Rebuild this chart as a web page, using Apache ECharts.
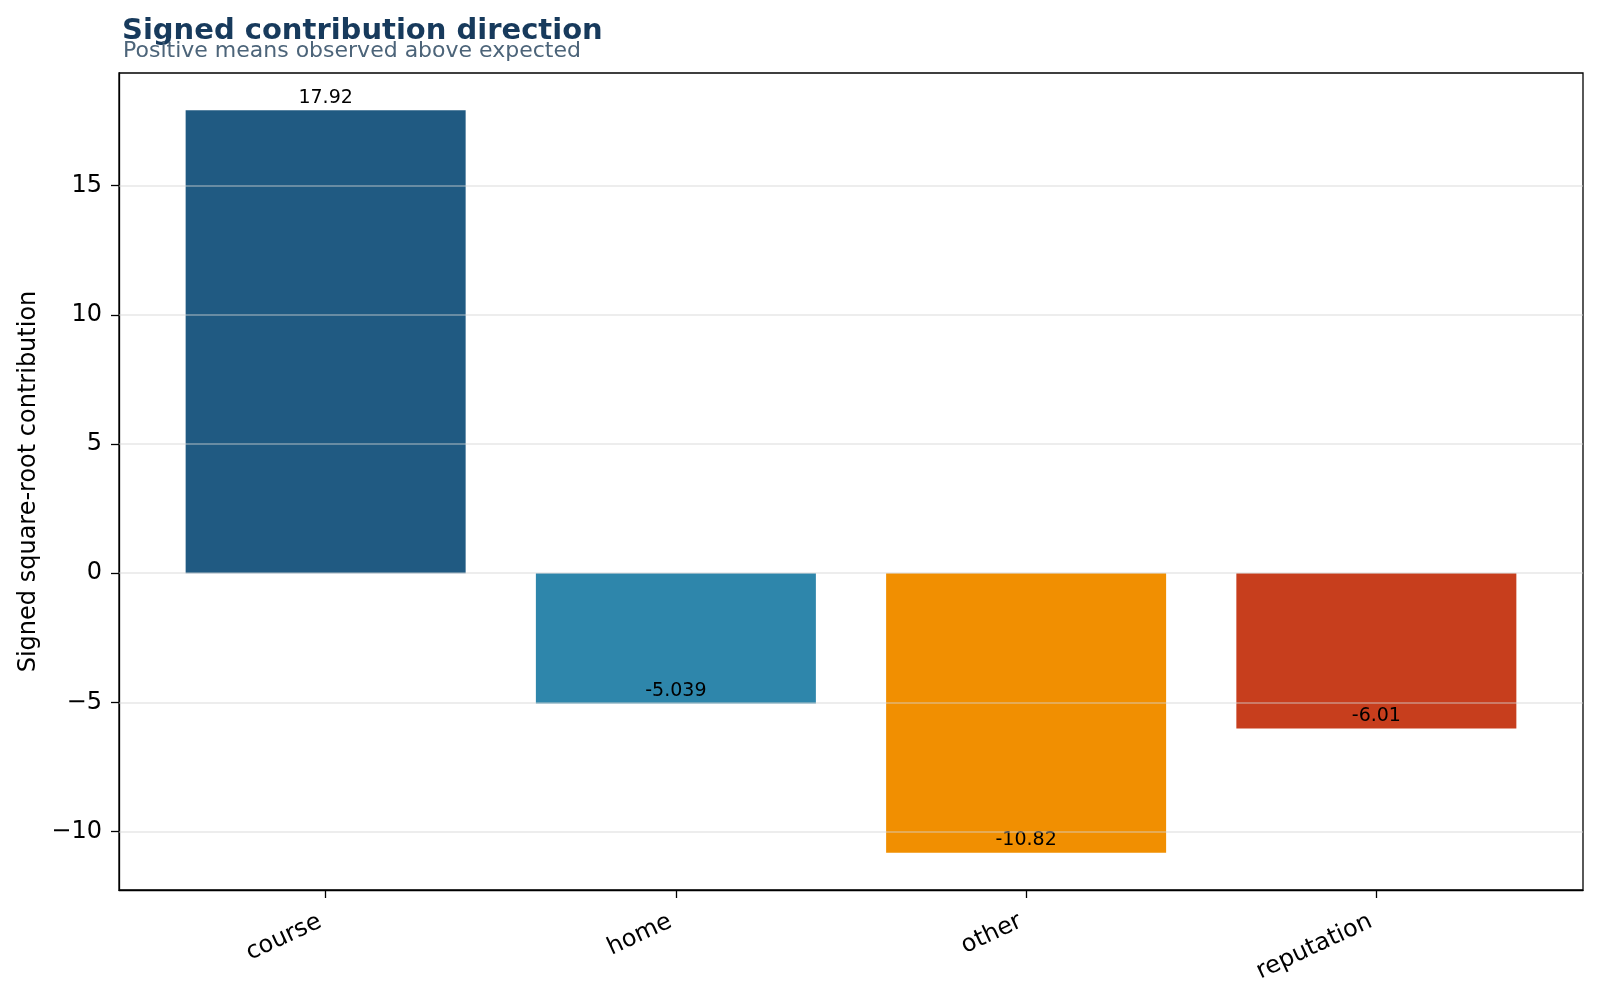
<!DOCTYPE html>
<html>
<head>
<meta charset="utf-8">
<script src="https://cdn.jsdelivr.net/npm/echarts@6/dist/echarts.min.js"></script>
<style>
  html, body { margin: 0; padding: 0; background: #fff; }
  #main { width: 1600px; height: 1000px; }
</style>
</head>
<body>
<div id="main"></div>
<script>
(function(){
var myChart = echarts.init(document.getElementById('main'));

// data
var categories = ['course', 'home', 'other', 'reputation'];
var values = [17.92, -5.039, -10.82, -6.01];
var yTicks = [-10, -5, 0, 5, 10, 15];
var barColors = ['#205a82', '#2e86ab', '#f18f01', '#c73e1d'];

var FONT = 'DejaVu Sans';

// like matplotlib's %.4g
function fmt(v){
    return String(Number(v.toPrecision(4)));
}

var option = {
    animation: false,
    textStyle: { fontFamily: FONT },
    title: [{
        text: 'Signed contribution direction',
        left: 117,
        top: 12,
        textStyle: { fontFamily: FONT, fontSize: 29, fontWeight: 'bold', color: '#173a5c' }
    }, {
        text: 'Positive means observed above expected',
        left: 118,
        top: 35,
        textStyle: { fontFamily: FONT, fontSize: 22, fontWeight: 'normal', color: '#4c6479' }
    }],
    grid: {
        left: 119,
        right: 17,
        top: 73,
        bottom: 110,
        show: true,
        borderColor: '#000',
        borderWidth: 1.3,
        backgroundColor: 'transparent'
    },
    xAxis: {
        type: 'value',
        min: -0.59,
        max: 3.59,
        axisLine: { show: true, onZero: false, lineStyle: { color: '#000', width: 1.3 } },
        axisTick: { show: true, length: 8, customValues: [0, 1, 2, 3], lineStyle: { color: '#000', width: 1.3 } },
        axisLabel: {
            customValues: [0, 1, 2, 3],
            formatter: function (v) { return categories[v]; },
            rotate: 25,
            margin: 28,
            padding: [0, 6, 0, 0],
            fontSize: 24,
            color: '#000',
            fontFamily: FONT
        },
        splitLine: { show: false }
    },
    yAxis: {
        type: 'value',
        min: -12.257,
        max: 19.357,
        name: 'Signed square-root contribution',
        nameLocation: 'middle',
        nameGap: 78,
        nameTextStyle: { fontSize: 24, color: '#000', fontFamily: FONT },
        axisLine: { show: true, onZero: false, lineStyle: { color: '#000', width: 1.3 } },
        axisTick: { show: true, length: 8, customValues: yTicks, lineStyle: { color: '#000', width: 1.3 } },
        axisLabel: {
            customValues: yTicks,
            formatter: function (v) { return String(v).replace('-', '\u2212'); },
            margin: 17,
            fontSize: 24,
            color: '#000',
            fontFamily: FONT
        },
        splitLine: { show: false }
    },
    series: [{
        type: 'bar',
        barWidth: 280,
        z: 2,
        data: values.map(function (v, i) {
            return {
                value: [i, v],
                itemStyle: { color: barColors[i] },
                label: {
                    show: true,
                    position: v >= 0 ? 'top' : 'insideBottom',
                    distance: 3,
                    formatter: function () { return fmt(v); },
                    fontSize: 19,
                    color: '#000',
                    fontFamily: FONT
                }
            };
        }),
        // grid lines sit above the bars, like in the original
        markLine: {
            silent: true,
            symbol: 'none',
            z: 5,
            label: { show: false },
            lineStyle: { color: '#d4d4d4', opacity: 0.55, width: 1.5, type: 'solid' },
            data: yTicks.map(function (t) { return { yAxis: t }; })
        }
    }]
};
myChart.setOption(option);
})();
</script>
</body>
</html>
